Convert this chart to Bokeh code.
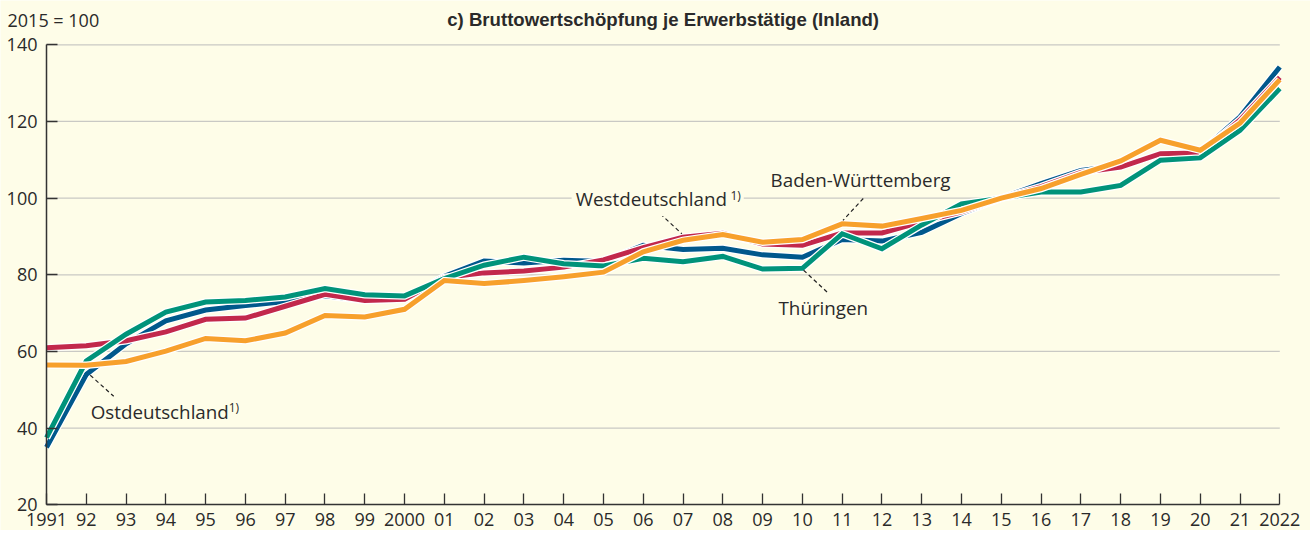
from bokeh.plotting import figure
from bokeh.models import Range1d, FixedTicker, Label
from bokeh.embed import file_html
from bokeh.resources import INLINE

# ---------------- data ----------------
years = list(range(1991, 2023))
tick_labels = ["1991", "92", "93", "94", "95", "96", "97", "98", "99", "2000",
               "01", "02", "03", "04", "05", "06", "07", "08", "09", "10",
               "11", "12", "13", "14", "15", "16", "17", "18", "19", "20",
               "21", "2022"]
y_ticks = [20, 40, 60, 80, 100, 120, 140]

ostdeutschland = [35.0, 54.0, 62.0, 68.0, 70.8, 72.0, 73.0, 74.5, 73.3, 73.7,
                  79.6, 83.6, 83.1, 83.8, 83.5, 87.7, 86.6, 86.9, 85.2, 84.6,
                  89.2, 88.8, 91.1, 96.0, 100.0, 103.8, 107.2, 108.5, 111.3, 112.0,
                  121.2, 134.2]
westdeutschland = [61.0, 61.5, 62.8, 65.1, 68.4, 68.7, 71.8, 74.9, 73.3, 73.6,
                   79.3, 80.5, 81.0, 82.0, 83.9, 87.1, 89.8, 90.8, 88.0, 87.7,
                   90.9, 90.9, 93.8, 96.4, 100.0, 103.0, 106.7, 108.1, 111.6, 111.8,
                   120.4, 131.5]
thueringen = [37.5, 57.5, 64.5, 70.3, 72.9, 73.3, 74.2, 76.4, 74.8, 74.5,
              79.0, 82.5, 84.6, 82.9, 82.3, 84.3, 83.4, 84.8, 81.5, 81.7,
              90.7, 86.8, 93.0, 98.5, 100.0, 101.6, 101.6, 103.3, 109.9, 110.5,
              117.7, 128.6]
baden_wuerttemberg = [56.5, 56.4, 57.4, 60.1, 63.4, 62.8, 64.8, 69.4, 69.0, 71.0,
                      78.5, 77.7, 78.5, 79.5, 80.7, 86.0, 89.0, 90.5, 88.5, 89.2,
                      93.3, 92.7, 94.7, 96.8, 100.0, 102.5, 106.2, 109.7, 115.1, 112.5,
                      119.6, 130.9]

series = [
    ("Ostdeutschland", ostdeutschland, "#00588c"),
    ("Westdeutschland", westdeutschland, "#c2284c"),
    ("Thüringen", thueringen, "#00937a"),
    ("Baden-Württemberg", baden_wuerttemberg, "#f7a02c"),
]

# annotation texts (x, y in data units)
label_texts = ["Ostdeutschland", "Westdeutschland", "Baden-Württemberg", "Thüringen"]
label_x = [1992.11, 2004.30, 2009.20, 2009.40]
label_y = [44.3, 99.8, 104.8, 71.4]
label_boxed = [False, True, False, False]
sup_x = [1995.58, 2008.19]
sup_y = [45.3, 100.7]
sup_boxed = [False, True]
leader_x0 = [1992.10, 2006.43, 2011.53, 2010.03]
leader_y0 = [53.8, 95.9, 99.9, 81.2]
leader_x1 = [1992.69, 2006.97, 2011.02, 2010.62]
leader_y1 = [48.3, 90.7, 94.2, 75.5]

# ---------------- layout ----------------
W, H = 1310, 530
LEFT, FRAME_R, TOP, AXIS_Y = 46.0, 1279.3, 44.3, 504.3   # pixel positions
PX_X = (FRAME_R - LEFT) / (years[-1] - years[0])
PX_Y = (AXIS_Y - TOP) / (y_ticks[-1] - y_ticks[0])

BG = "#fefde8"
FONT = "Open Sans"
TXT = "#2a2a2a"

x0 = years[0] - LEFT / PX_X
x1 = years[-1] + (W - FRAME_R) / PX_X
y0 = y_ticks[0] - (H - AXIS_Y) / PX_Y
y1 = y_ticks[-1] + TOP / PX_Y

p = figure(width=W, height=H, output_backend="svg", toolbar_location=None,
           x_range=Range1d(x0, x1), y_range=Range1d(y0, y1),
           min_border=0, min_border_left=0, min_border_right=0,
           min_border_top=0, min_border_bottom=0,
           background_fill_color=BG, border_fill_color=BG,
           outline_line_color=None)

# axes
for ax in (p.xaxis[0], p.yaxis[0]):
    ax.axis_line_color = "#333333"
    ax.axis_line_width = 1.5
    ax.major_tick_line_color = "#333333"
    ax.major_tick_line_width = 1.3
    ax.major_tick_in = 11
    ax.major_tick_out = 0
    ax.minor_tick_line_color = None
    ax.major_label_text_font = FONT
    ax.major_label_text_font_size = "18px"
    ax.major_label_text_color = TXT

p.xaxis.fixed_location = y_ticks[0]
p.xaxis.bounds = (years[0], years[-1])
p.xaxis.ticker = FixedTicker(ticks=years)
p.xaxis.major_label_overrides = {y: lab for y, lab in zip(years, tick_labels)}
p.xaxis.major_label_standoff = 8

p.yaxis.fixed_location = years[0]
p.yaxis.bounds = (y_ticks[0], y_ticks[-1])
p.yaxis.ticker = FixedTicker(ticks=y_ticks)
p.yaxis.major_label_standoff = 9

p.xgrid.visible = False
p.ygrid.visible = False
gy = y_ticks[1:]
p.segment([years[0]] * len(gy), gy, [years[-1]] * len(gy), gy,
          line_color="#c9c9c4", line_width=1.3, level="underlay")

# lines (white casing + colour)
for name, vals, col in series:
    p.line(years, vals, line_color="white", line_width=7.5, line_join="miter")
    p.line(years, vals, line_color=col, line_width=5, line_join="miter")

# leader lines
p.segment(leader_x0, leader_y0, leader_x1, leader_y1, line_color="#222222",
          line_width=1.2, line_dash="4 3")

# labels (boxed ones cover the grid line; shift left by their padding)
PAD_MAIN, PAD_SUP = 4, 3
for text, x, y, boxed in zip(label_texts, label_x, label_y, label_boxed):
    pad = PAD_MAIN if boxed else 0
    p.add_layout(Label(x=x, y=y, text=text, text_font=FONT, text_font_size="18.8px",
                       text_color=TXT, text_baseline="middle", text_align="left",
                       x_offset=-pad,
                       background_fill_color=BG if boxed else None, padding=pad))
for x, y, boxed in zip(sup_x, sup_y, sup_boxed):
    pad = PAD_SUP if boxed else 0
    p.add_layout(Label(x=x, y=y, text="1)", text_font=FONT, text_font_size="12px",
                       text_color=TXT, text_baseline="middle", text_align="left",
                       x_offset=-pad,
                       background_fill_color=BG if boxed else None, padding=pad))

# headers
hdr_y = y_ticks[-1] + (TOP - 19) / PX_Y
p.add_layout(Label(x=years[0] - (LEFT - 7) / PX_X, y=hdr_y, text="2015 = 100",
                   text_font=FONT, text_font_size="18px", text_color=TXT,
                   text_align="left", text_baseline="middle"))
p.add_layout(Label(x=(years[0] + years[-1]) / 2, y=hdr_y,
                   text="c) Bruttowertschöpfung je Erwerbstätige (Inland)",
                   text_font="Liberation Sans", text_font_size="18.6px",
                   text_font_style="bold",
                   text_color=TXT, text_align="center", text_baseline="middle"))

open("out.html", "w").write(file_html(p, INLINE))
